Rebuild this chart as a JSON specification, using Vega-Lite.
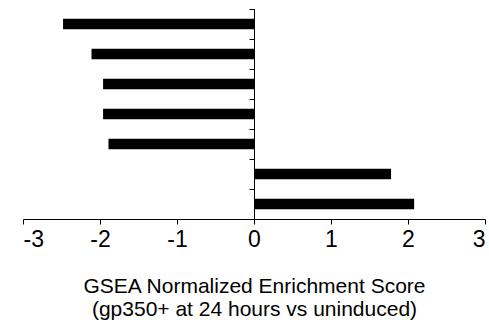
{
  "$schema": "https://vega.github.io/schema/vega-lite/v6.json",
  "autosize": {"type": "none"},
  "width": 462,
  "height": 210,
  "padding": {"left": 23, "top": 9, "right": 4, "bottom": 110},
  "background": "white",
  "config": {"view": {"stroke": null}, "font": "Liberation Sans"},
  "data": {"values": [
    {"set": "S1", "nes": -2.48},
    {"set": "S2", "nes": -2.11},
    {"set": "S3", "nes": -1.96},
    {"set": "S4", "nes": -1.96},
    {"set": "S5", "nes": -1.89},
    {"set": "S6", "nes": 1.78},
    {"set": "S7", "nes": 2.08}
  ]},
  "mark": {"type": "bar", "color": "black", "height": {"band": 0.35}},
  "encoding": {
    "y": {
      "field": "set", "type": "nominal", "sort": null,
      "scale": {"paddingInner": 0, "paddingOuter": 0},
      "axis": {
        "offset": -231, "labels": false, "title": null, "grid": false,
        "tickBand": "extent", "tickSize": 5, "tickColor": "black",
        "domainColor": "black", "tickWidth": 1, "domainWidth": 1
      }
    },
    "x": {
      "field": "nes", "type": "quantitative",
      "scale": {"domain": [-3, 3], "nice": false},
      "axis": {
        "values": [-3, -2, -1, 0, 1, 2, 3],
        "labelExpr": "'' + datum.value",
        "grid": false, "tickSize": 5, "tickColor": "black", "domainColor": "black",
        "labelFontSize": 23, "labelColor": "black", "labelPadding": 4,
        "labelFont": "Liberation Sans",
        "title": ["GSEA Normalized Enrichment Score", "(gp350+ at 24 hours vs uninduced)"],
        "titleFont": "Liberation Sans", "titleFontSize": 21, "titleFontWeight": "normal",
        "titleColor": "black", "titleLineHeight": 23, "titlePadding": 24
      }
    }
  }
}
